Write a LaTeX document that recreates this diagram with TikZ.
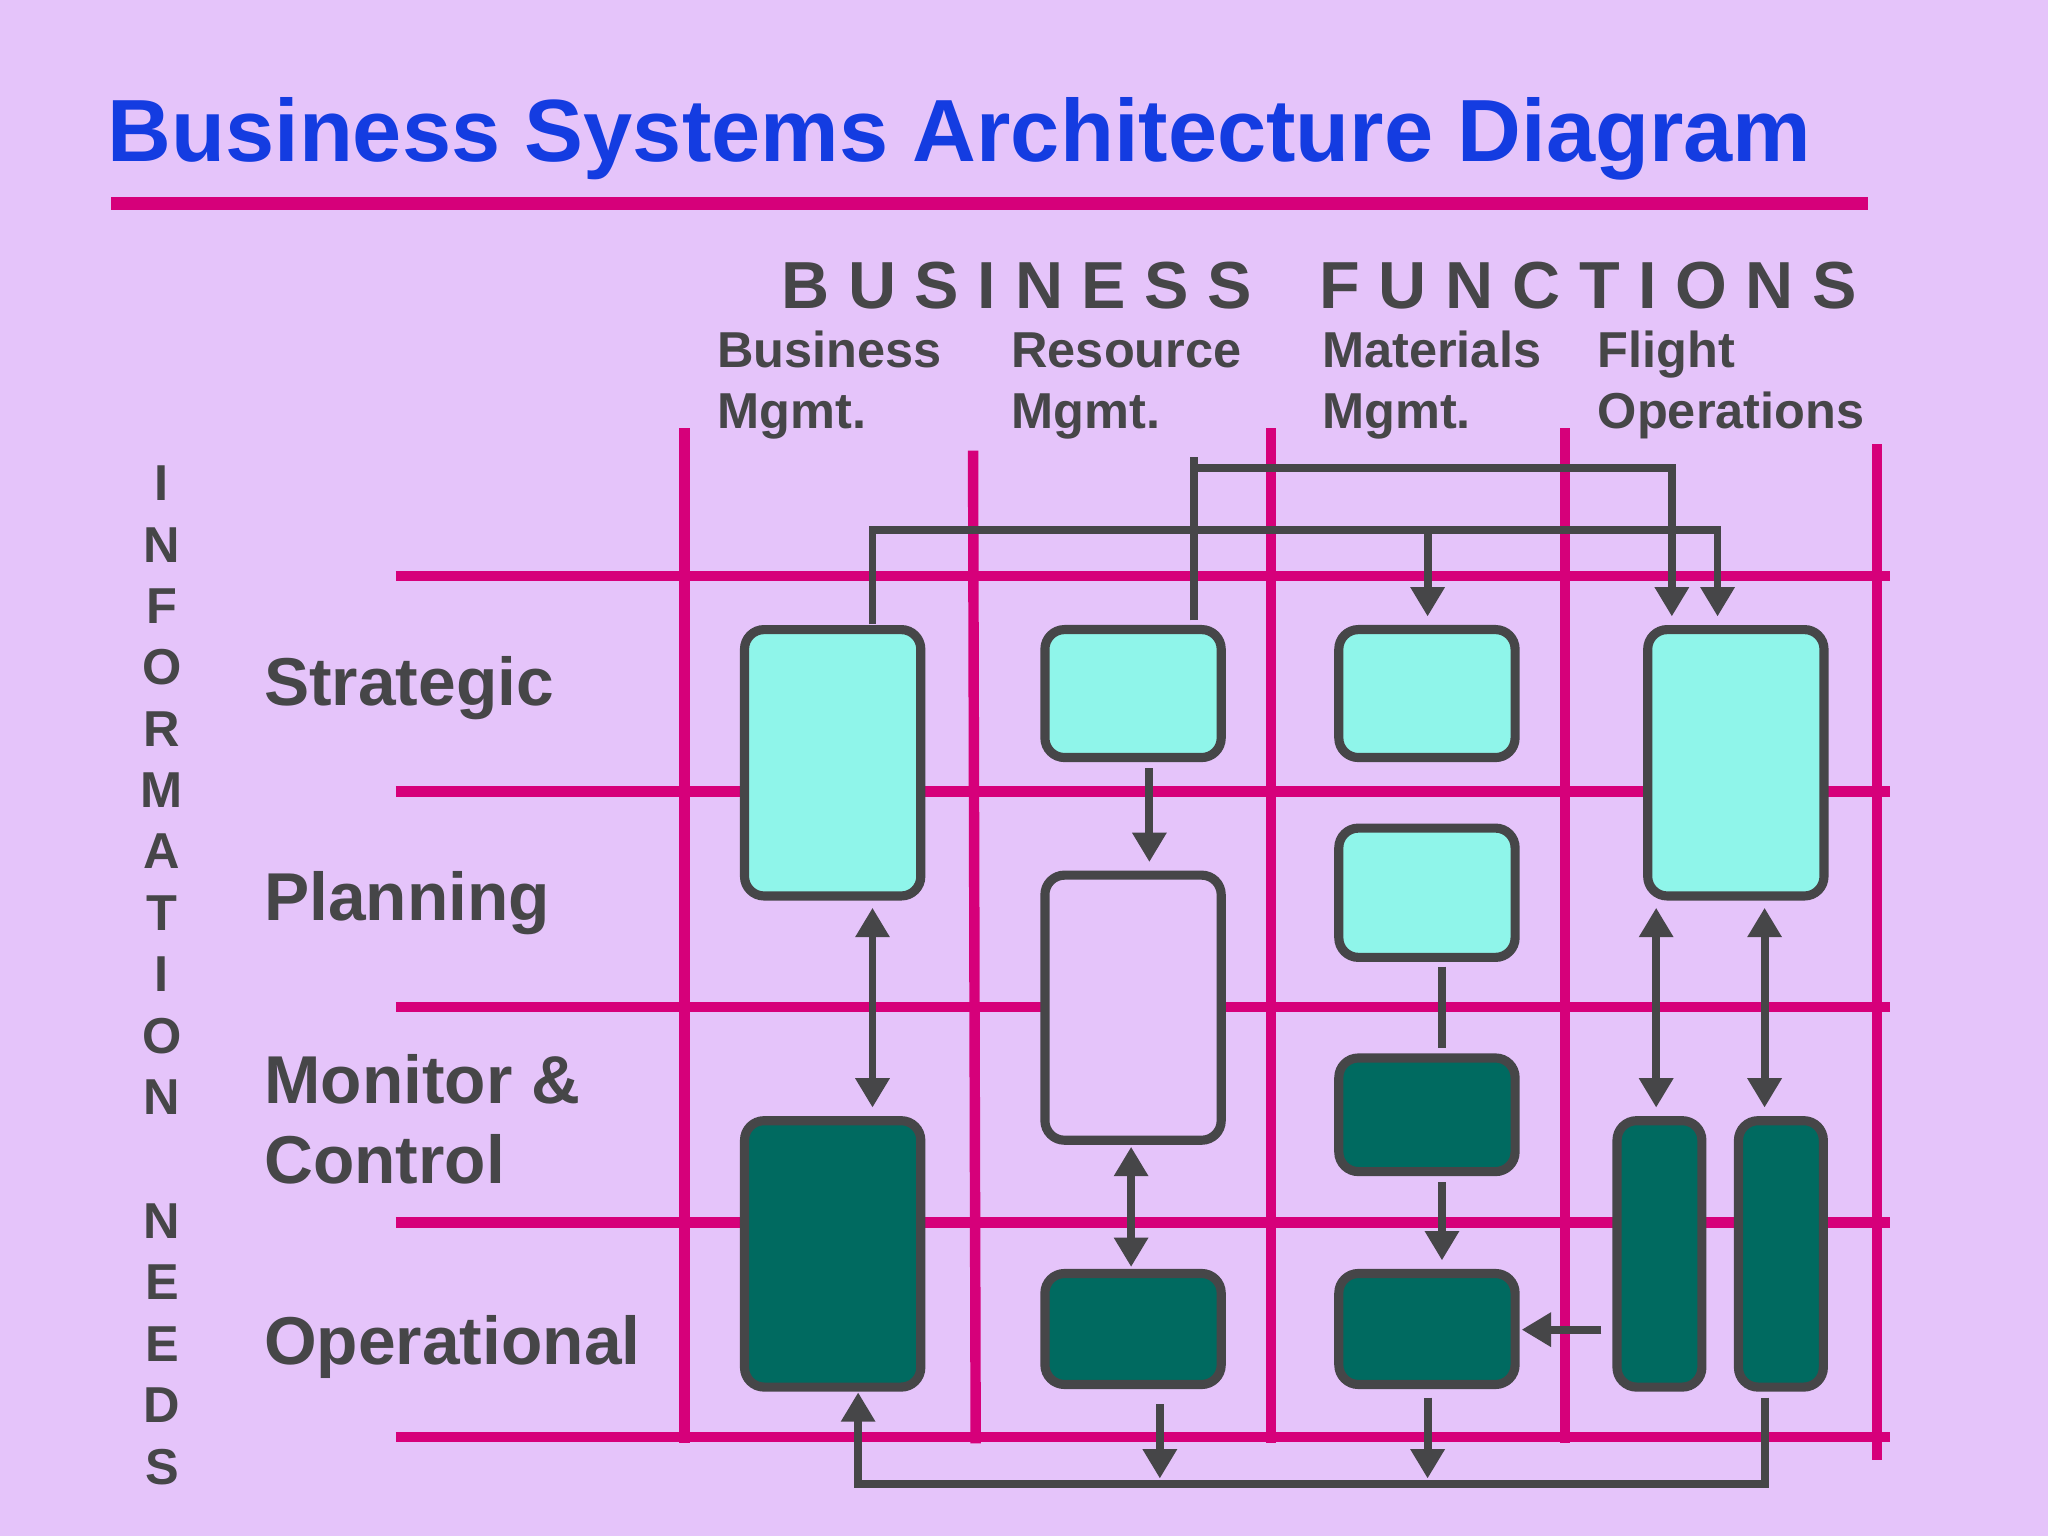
\documentclass[tikz,border=0pt]{standalone}
\usepackage{fontspec}
\setmainfont{Liberation Sans}
\usetikzlibrary{arrows.meta}
\definecolor{bg}{RGB}{229,196,250}
\definecolor{mag}{RGB}{214,0,122}
\definecolor{ttl}{RGB}{20,60,225}
\definecolor{gr}{RGB}{70,70,72}
\definecolor{lc}{RGB}{143,245,234}
\definecolor{dk}{RGB}{0,106,96}
\begin{document}
\begin{tikzpicture}[x=0.02cm,y=-0.02cm,
 grid/.style={mag,line width=0.16cm},
 box/.style={draw=gr,line width=0.14cm,rounded corners=0.3cm,inner sep=0pt,minimum width=2.7cm},
 lbox/.style={box,fill=lc}, dbox/.style={box,fill=dk},
 con/.style={gr,line width=0.12cm},
 arr/.style={con,-{Triangle[length=0.45cm,width=0.5cm]}},
 darr/.style={con,{Triangle[length=0.45cm,width=0.5cm]}-{Triangle[length=0.45cm,width=0.5cm]}},
 lab/.style={text=gr,font=\bfseries\fontsize{29.5}{35}\selectfont,anchor=base west,align=left,inner sep=0pt},
 col/.style={text=gr,font=\bfseries\fontsize{22}{26.6}\selectfont,anchor=base west,align=left,inner sep=0pt},
 bfs/.style={text=gr,font=\bfseries\fontsize{29}{34}\selectfont\addfontfeature{LetterSpace=28},anchor=base west,inner sep=0pt},
 vl/.style={text=gr,font=\bfseries\fontsize{22}{26}\selectfont}]
\fill[bg] (0,0) rectangle (1568,1176);
\useasboundingbox (0,0) rectangle (1568,1176);
\node[text=ttl,font=\bfseries\fontsize{38.5}{44}\selectfont,anchor=base west,inner sep=0pt] (title) at (82,124) {Business Systems Architecture Diagram};
\draw[mag,line width=0.2cm] (85,156) -- (1430,156);
\node[bfs] (bf1) at (598,236) {BUSINESS};
\node[bfs] (bf2) at (1010,236) {FUNCTIONS};
\node[col] (c1) at (549,328) {Business\\Mgmt.};
\node[col] (c2) at (774,328) {Resource\\Mgmt.};
\node[col] (c3) at (1012,328) {Materials\\Mgmt.};
\node[col] (c4) at (1223,328) {Flight\\Operations};
\foreach \l/\y [count=\i] in {I/370,N/417,F/464,O/511,R/558,M/605,A/652,T/699,I/746,O/793,N/840,N/935,E/982,E/1029,D/1076,S/1123}
 \node[vl] (v\i) at (124,\y) {\l};
\node[lab] (r1) at (202,540) {Strategic};
\node[lab] (r2) at (202,705) {Planning};
\node[lab] (r3) at (202,906) {Monitor \&\\Control};
\node[lab] (r4) at (202,1045) {Operational};
% grid
\foreach \y in {441,606,771,936,1100} \draw[grid] (303,\y) -- (1447,\y);
\draw[grid] (524,328) -- (524,1105);
\draw[grid] (745,345) -- (747,1105);
\draw[grid] (973,328) -- (973,1105);
\draw[grid] (1198,328) -- (1198,1105);
\draw[grid] (1437,340) -- (1437,1118);
% boxes
\node[lbox,minimum height=4.08cm] (bm1) at (637.5,584) {};
\node[lbox,minimum height=1.96cm] (rm1) at (867.5,531) {};
\node[lbox,minimum height=1.96cm] (mm1) at (1092.5,531) {};
\node[lbox,minimum height=4.08cm] (fo1) at (1329,584) {};
\node[box,fill=bg,minimum height=4.06cm] (rm2) at (867.5,771.5) {};
\node[lbox,minimum height=1.98cm] (mm2) at (1092.5,683.5) {};
\node[dbox,minimum height=1.74cm] (mm3) at (1092.5,853.5) {};
\node[dbox,minimum height=4.08cm] (bm2) at (637.5,960) {};
\node[dbox,minimum height=1.7cm] (rm3) at (867.5,1017.5) {};
\node[dbox,minimum height=1.7cm] (mm4) at (1092.5,1017.5) {};
\node[dbox,minimum width=1.3cm,minimum height=4.08cm] (fo2) at (1270.5,960) {};
\node[dbox,minimum width=1.3cm,minimum height=4.08cm] (fo3) at (1363.5,960) {};
% connectors
\coordinate (a1) at (668,478);
\draw[con] (a1) |- (1315,406);
\draw[arr] (1315,403) -- (1315,472);
\draw[arr] (1093,406) -- (1093,472);
\coordinate (b1) at (914,475);
\draw[con] (b1) -- (914,350);
\draw[con] (914,358) -| (1280,400);
\draw[arr] (1280,398) -- (1280,472);
\draw[arr] (880,588) -- (880,660);
\draw[darr] (668,695) -- (668,848);
\draw[darr] (1268,695) -- (1268,848);
\draw[darr] (1351,695) -- (1351,848);
\draw[darr] (866,878) -- (866,970);
\draw[con] (1104,740) -- (1104,802);
\draw[arr] (1104,905) -- (1104,965);
\coordinate (f1) at (1226,1018);
\coordinate (f2) at (1165,1018);
\draw[arr] (f1) -- (f2);
\draw[arr] (1351,1070) |- (657,1136) -- (657,1066);
\draw[arr] (888,1075) -- (888,1132);
\draw[arr] (1093,1070) -- (1093,1132);
\end{tikzpicture}
\end{document}
